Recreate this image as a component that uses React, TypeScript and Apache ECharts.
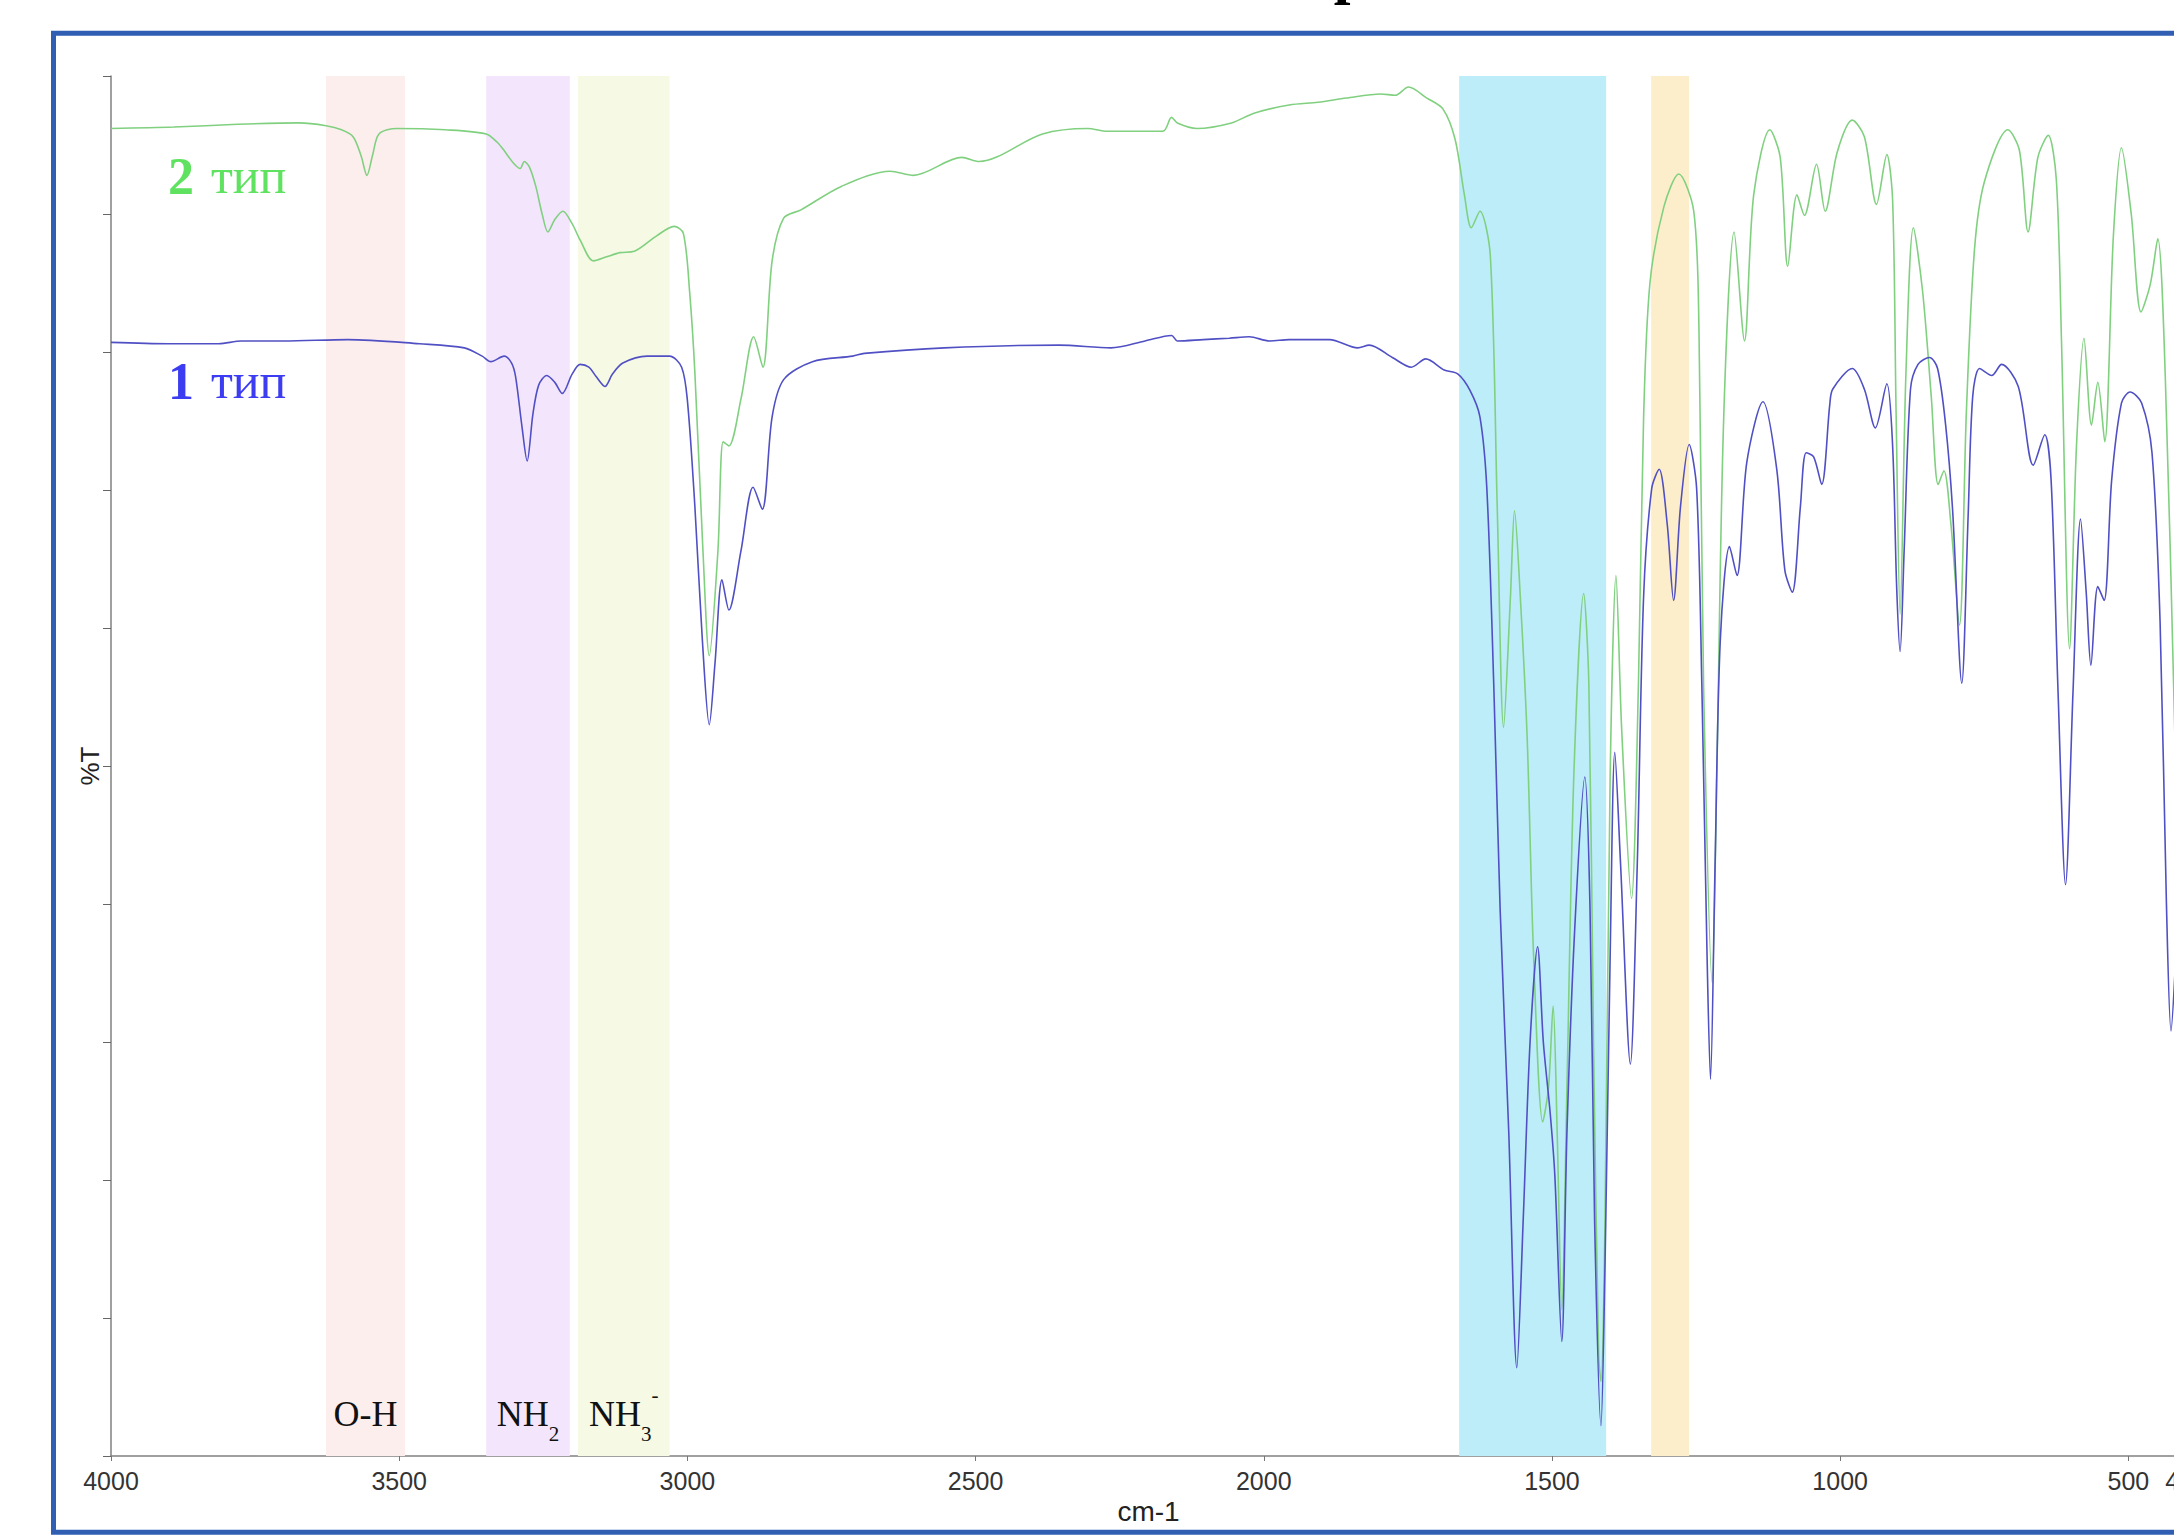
import React, { useEffect, useRef } from "react";
import * as echarts from "echarts";

// ---- data (wavenumber cm-1, %T in arbitrary 0..100 units) ----
const type2Spectrum: [number, number][] = [
  [4000, 96.2], [3891, 96.3], [3780, 96.5], [3674, 96.6], [3627, 96.4], [3600, 96.1], [3580, 95.6],
  [3566, 94.2], [3556, 92.8], [3546, 94.3], [3535, 95.8], [3504, 96.2], [3420, 96.1], [3349, 95.8],
  [3330, 95.2], [3318, 94.6], [3302, 93.7], [3290, 93.3], [3283, 93.8], [3274, 93.4], [3263, 92.0],
  [3252, 90.0], [3242, 88.7], [3230, 89.6], [3216, 90.2], [3200, 89.3], [3186, 88.1], [3163, 86.6],
  [3140, 86.9], [3117, 87.2], [3092, 87.3], [3054, 88.4], [3023, 89.1], [3007, 88.6], [2996, 84.3],
  [2987, 78.5], [2973, 65.6], [2962, 58.0], [2947, 65.6], [2938, 73.5], [2928, 73.2], [2907, 76.6],
  [2885, 81.1], [2869, 78.9], [2853, 86.6], [2833, 89.7], [2803, 90.3], [2733, 92.0], [2648, 93.1],
  [2608, 92.8], [2524, 94.1], [2494, 93.8], [2384, 95.8], [2305, 96.2], [2275, 96.0], [2175, 96.0],
  [2160, 97.0], [2150, 96.6], [2116, 96.2], [2056, 96.6], [2017, 97.3], [1956, 97.9], [1906, 98.1],
  [1857, 98.4], [1797, 98.7], [1772, 98.6], [1749, 99.2], [1717, 98.4], [1689, 97.6], [1668, 95.4],
  [1652, 91.4], [1640, 89.0], [1625, 90.2], [1607, 87.0], [1595, 68.8], [1584, 52.8], [1572, 62.3],
  [1565, 68.5], [1555, 62.3], [1543, 52.0], [1532, 36.4], [1516, 24.2], [1506, 26.7], [1498, 32.6],
  [1491, 23.5], [1483, 10.6], [1474, 26.7], [1462, 49.4], [1445, 62.5], [1436, 55.9], [1428, 30.0],
  [1419, 7.3], [1415, 5.4], [1408, 17.0], [1399, 49.4], [1389, 63.8], [1379, 52.6], [1362, 40.4],
  [1350, 55.9], [1341, 75.3], [1330, 85.0], [1306, 90.5], [1280, 92.9], [1254, 90.2], [1245, 81.7],
  [1237, 55.9], [1222, 34.3], [1214, 49.4], [1202, 75.3], [1184, 88.7], [1166, 80.8], [1150, 91.4],
  [1122, 96.1], [1104, 94.1], [1091, 86.2], [1075, 91.4], [1062, 89.9], [1041, 93.6], [1026, 90.2],
  [1005, 94.5], [979, 96.8], [958, 95.6], [937, 90.7], [919, 94.3], [909, 91.0], [903, 75.7],
  [896, 61.0], [886, 78.3], [873, 89.0], [857, 84.4], [842, 76.8], [830, 70.4], [820, 71.4],
  [808, 67.6], [793, 60.2], [781, 75.7], [767, 87.4], [750, 92.3], [709, 96.1], [689, 94.6],
  [674, 88.7], [657, 94.1], [639, 95.7], [625, 92.5], [616, 80.8], [602, 58.5], [590, 73.2],
  [577, 81.0], [564, 74.7], [553, 77.8], [541, 73.5], [526, 88.4], [512, 94.8], [495, 90.0],
  [478, 82.9], [462, 84.9], [449, 88.2], [436, 78.3], [418, 50.0],
];

const type1Spectrum: [number, number][] = [
  [4000, 80.7], [3900, 80.6], [3813, 80.6], [3774, 80.8], [3700, 80.8], [3589, 80.9], [3465, 80.6],
  [3387, 80.3], [3356, 79.7], [3341, 79.3], [3318, 79.7], [3305, 79.2], [3298, 78.2], [3287, 74.6],
  [3278, 72.1], [3268, 75.5], [3258, 77.6], [3244, 78.3], [3230, 77.8], [3217, 77.0], [3200, 78.4],
  [3186, 79.1], [3171, 78.9], [3158, 78.2], [3143, 77.5], [3130, 78.4], [3112, 79.2], [3070, 79.7],
  [3031, 79.7], [3010, 78.9], [3000, 76.5], [2987, 68.8], [2974, 59.1], [2962, 53.0], [2952, 57.5],
  [2940, 63.5], [2928, 61.3], [2907, 65.6], [2886, 70.2], [2870, 68.6], [2853, 75.3], [2833, 78.0],
  [2783, 79.3], [2713, 79.7], [2693, 79.9], [2554, 80.3], [2355, 80.5], [2265, 80.3], [2206, 80.8],
  [2160, 81.2], [2150, 80.8], [2105, 80.9], [2060, 81.0], [2025, 81.1], [1990, 80.8], [1956, 80.9],
  [1886, 80.9], [1837, 80.3], [1817, 80.5], [1777, 79.6], [1744, 78.9], [1719, 79.5], [1687, 78.7],
  [1663, 78.4], [1642, 77.2], [1625, 75.3], [1613, 70.1], [1601, 55.9], [1590, 39.7], [1575, 23.5],
  [1561, 6.4], [1550, 17.0], [1538, 30.0], [1525, 36.9], [1515, 30.0], [1503, 24.8], [1495, 20.3],
  [1483, 8.3], [1474, 23.5], [1461, 37.8], [1443, 49.2], [1434, 39.7], [1426, 17.0], [1415, 2.2],
  [1408, 13.8], [1399, 36.4], [1391, 51.0], [1381, 42.9], [1364, 28.4], [1352, 42.9], [1341, 62.3],
  [1327, 70.1], [1314, 71.5], [1300, 67.5], [1289, 62.0], [1277, 68.8], [1262, 73.3], [1249, 70.1],
  [1240, 55.9], [1231, 36.4], [1225, 27.3], [1217, 42.9], [1208, 59.1], [1192, 65.9], [1179, 63.8],
  [1162, 72.0], [1134, 76.4], [1110, 71.5], [1096, 64.2], [1083, 62.6], [1069, 68.8], [1059, 72.7],
  [1046, 72.4], [1032, 70.4], [1018, 76.2], [1013, 77.3], [979, 78.8], [958, 77.3], [939, 74.5],
  [919, 77.7], [909, 73.2], [902, 63.0], [896, 58.3], [889, 65.6], [878, 77.3], [865, 79.1],
  [845, 79.6], [831, 78.8], [817, 74.7], [805, 68.6], [789, 56.0], [778, 68.1], [770, 76.8],
  [758, 78.8], [737, 78.3], [720, 79.1], [691, 77.5], [665, 71.8], [645, 74.0], [634, 70.7],
  [622, 55.4], [609, 41.4], [596, 55.4], [583, 67.9], [573, 62.5], [565, 57.3], [553, 63.0],
  [542, 62.0], [529, 70.7], [512, 76.3], [497, 77.1], [477, 76.3], [459, 72.7], [445, 60.5],
  [434, 40.1], [426, 30.8], [418, 36.0],
];

// absorption band regions [from, to] in cm-1 and their label (rich-text)
const bandRanges: [number, number][] = [
  [3627, 3490],
  [3349, 3204],
  [3190, 3031],
  [1661, 1406],
  [1328, 1262],
];
const bandLabels: string[] = ["{m|O-H}", "{m|NH}{sub|2}", "{m|NH}{sub|3}{sup|-}", "", ""];
const bandColors: string[] = ["#fdeeee", "#f3e6fc", "#f6f9e3", "#bdedf9", "#fdeecb"];

const seriesNames = ["2 тип", "1 тип"];
const xMin = 400;
const xMax = 4000;
const yMin = 0;
const yMax = 100;
const yInterval = 10;
const titleText = "ИК-спектры";

export default function App() {
  const ref = useRef<HTMLDivElement>(null);

  useEffect(() => {
    if (!ref.current) return;
    const chart = echarts.init(ref.current, null, { renderer: "svg" });

    const bandData = bandRanges.map((r, i) => [
      {
        xAxis: r[0],
        yAxis: yMin,
        itemStyle: { color: bandColors[i], opacity: 1 },
        label: { formatter: bandLabels[i] },
      },
      { xAxis: r[1], yAxis: 100.43 },
    ]);

    const option: any = {
      animation: false,
      backgroundColor: "#ffffff",
      grid: { left: 111, right: 74, top: 76, bottom: 80, containLabel: false },
      xAxis: {
        type: "value",
        min: xMin,
        max: xMax,
        inverse: true,
        splitNumber: 7,
        minInterval: 500,
        maxInterval: 500,
        name: "cm-1",
        nameLocation: "middle",
        nameGap: 40,
        nameTextStyle: { fontSize: 28, color: "#222", fontFamily: "Liberation Sans" },
        axisLine: { show: true, lineStyle: { color: "#808080", width: 1.5 } },
        axisTick: { show: true, length: 5, lineStyle: { color: "#777" } },
        axisLabel: {
          fontSize: 25,
          color: "#333",
          fontFamily: "Liberation Sans",
          margin: 12,
          formatter: (v: number) => String(v),
        },
        splitLine: { show: false },
      },
      yAxis: {
        type: "value",
        min: yMin,
        max: yMax,
        interval: yInterval,
        name: "%T",
        nameLocation: "middle",
        nameRotate: 90,
        nameGap: 8,
        nameTextStyle: { fontSize: 26, color: "#222", fontFamily: "Liberation Sans" },
        axisLine: { show: true, lineStyle: { color: "#808080", width: 1.5 } },
        axisTick: { show: true, length: 8, lineStyle: { color: "#666" } },
        axisLabel: { show: false },
        splitLine: { show: false },
      },
      series: [
        {
          type: "line",
          name: "bands",
          data: [],
          z: 1,
          clip: false,
          silent: true,
          markArea: {
            silent: true,
            data: bandData,
            label: {
              show: true,
              position: "insideBottom",
              distance: 12,
              color: "#111",
              rich: {
                m: { fontSize: 36, fontFamily: "Liberation Serif", color: "#111", lineHeight: 60, verticalAlign: "middle" },
                sub: { fontSize: 21, fontFamily: "Liberation Serif", color: "#111", lineHeight: 20, verticalAlign: "bottom" },
                sup: { fontSize: 21, fontFamily: "Liberation Serif", color: "#111", lineHeight: 52, verticalAlign: "top" },
              },
            },
          },
        },
        {
          type: "line",
          name: seriesNames[0],
          data: type2Spectrum,
          showSymbol: false,
          smooth: 0.3,
          z: 3,
          lineStyle: { color: "#80d080", width: 1.6 },
        },
        {
          type: "line",
          name: seriesNames[1],
          data: type1Spectrum,
          showSymbol: false,
          smooth: 0.3,
          z: 4,
          lineStyle: { color: "#5050c4", width: 1.6 },
        },
      ],
      graphic: [
        {
          type: "rect",
          z: 100,
          silent: true,
          shape: { x: 53.5, y: 33.3, width: 2400, height: 1499 },
          style: { fill: "none", stroke: "#2f5eb3", lineWidth: 5 },
        },
        {
          type: "text",
          z: 100,
          x: 1071,
          y: -28,
          style: {
            text: titleText,
            font: "bold 60px 'Liberation Serif'",
            fill: "#000",
            textAlign: "left",
            textVerticalAlign: "middle",
          },
        },
        {
          type: "text",
          z: 100,
          x: 168,
          y: 176,
          style: {
            text: "{a|2}{s| }{b|тип}",
            textAlign: "left",
            textVerticalAlign: "middle",
            rich: {
              a: { fontSize: 52, fontWeight: "bold", fontFamily: "Liberation Serif", fill: "#5fe25f" },
              s: { fontSize: 50, fontFamily: "Liberation Serif", width: 17 },
              b: { fontSize: 50, fontFamily: "Liberation Serif", fill: "#5fe25f" },
            },
          },
        },
        {
          type: "text",
          z: 100,
          x: 168,
          y: 381,
          style: {
            text: "{a|1}{s| }{b|тип}",
            textAlign: "left",
            textVerticalAlign: "middle",
            rich: {
              a: { fontSize: 52, fontWeight: "bold", fontFamily: "Liberation Serif", fill: "#3c3cf2" },
              s: { fontSize: 50, fontFamily: "Liberation Serif", width: 17 },
              b: { fontSize: 50, fontFamily: "Liberation Serif", fill: "#3c3cf2" },
            },
          },
        },
      ],
    };

    chart.setOption(option);
    return () => chart.dispose();
  }, []);

  return (
    <div
      style={{
        position: "absolute",
        left: 0,
        top: 0,
        width: 2174,
        height: 1536,
        overflow: "hidden",
        background: "#fff",
      }}
    >
      <div ref={ref} style={{ width: 2260, height: 1536 }} />
    </div>
  );
}
